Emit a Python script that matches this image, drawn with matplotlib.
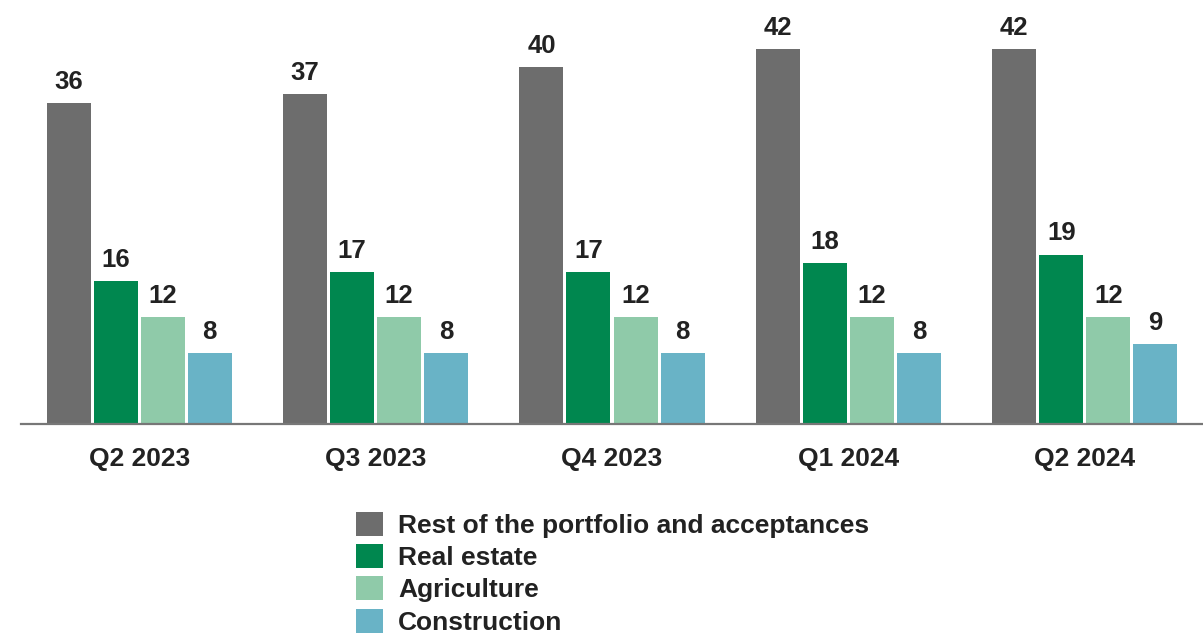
import matplotlib
matplotlib.use("Agg")
import matplotlib.pyplot as plt
import numpy as np

plt.rcParams['font.family'] = ['Liberation Sans', 'DejaVu Sans']

quarters = ['Q2 2023', 'Q3 2023', 'Q4 2023', 'Q1 2024', 'Q2 2024']
series = ['Rest of the portfolio and acceptances', 'Real estate', 'Agriculture', 'Construction']
rest = [36, 37, 40, 42, 42]
real_estate = [16, 17, 17, 18, 19]
agriculture = [12, 12, 12, 12, 12]
construction = [8, 8, 8, 8, 9]
colors = ['#6d6d6d', '#00874f', '#8fcaa9', '#69b3c6']

values = [rest, real_estate, agriculture, construction]
text_color = '#222222'

fig = plt.figure(figsize=(12.03, 6.33), dpi=100)
ax = fig.add_axes([21 / 1203, 1 - 424 / 633, 1 - 21 / 1203, 424 / 633])

x = np.arange(len(quarters))
step = 0.199
width = 0.186
for i, (vals, name, c) in enumerate(zip(values, series, colors)):
    pos = x + (i - 1.5) * step
    bars = ax.bar(pos, vals, width, color=c, label=name)
    for b, v in zip(bars, vals):
        ax.annotate(str(v), (b.get_x() + b.get_width() / 2, v), xytext=(0, 6.5),
                    textcoords='offset points', ha='center', va='bottom',
                    fontsize=18.5, fontweight='bold', color=text_color)

ax.set_xlim(-0.5, len(quarters) - 0.5)
ax.set_ylim(0, 424 / 8.92)
ax.set_xticks(x)
ax.set_xticklabels(quarters, fontsize=19, fontweight='bold', color=text_color)
ax.tick_params(axis='x', length=0, pad=16.5)
ax.set_yticks([])
for s in ['top', 'right', 'left']:
    ax.spines[s].set_visible(False)
ax.spines['bottom'].set_color('#777777')
ax.spines['bottom'].set_linewidth(1.6)

fig.legend(loc='upper left', bbox_to_anchor=(356 / 1203, 1 - 512 / 633),
           frameon=False, prop={'weight': 'bold', 'size': 19},
           handlelength=1.02, handleheight=1.02, handletextpad=0.57,
           labelspacing=0.235, borderpad=0, borderaxespad=0, labelcolor=text_color)

fig.savefig('out.png', dpi=100)
